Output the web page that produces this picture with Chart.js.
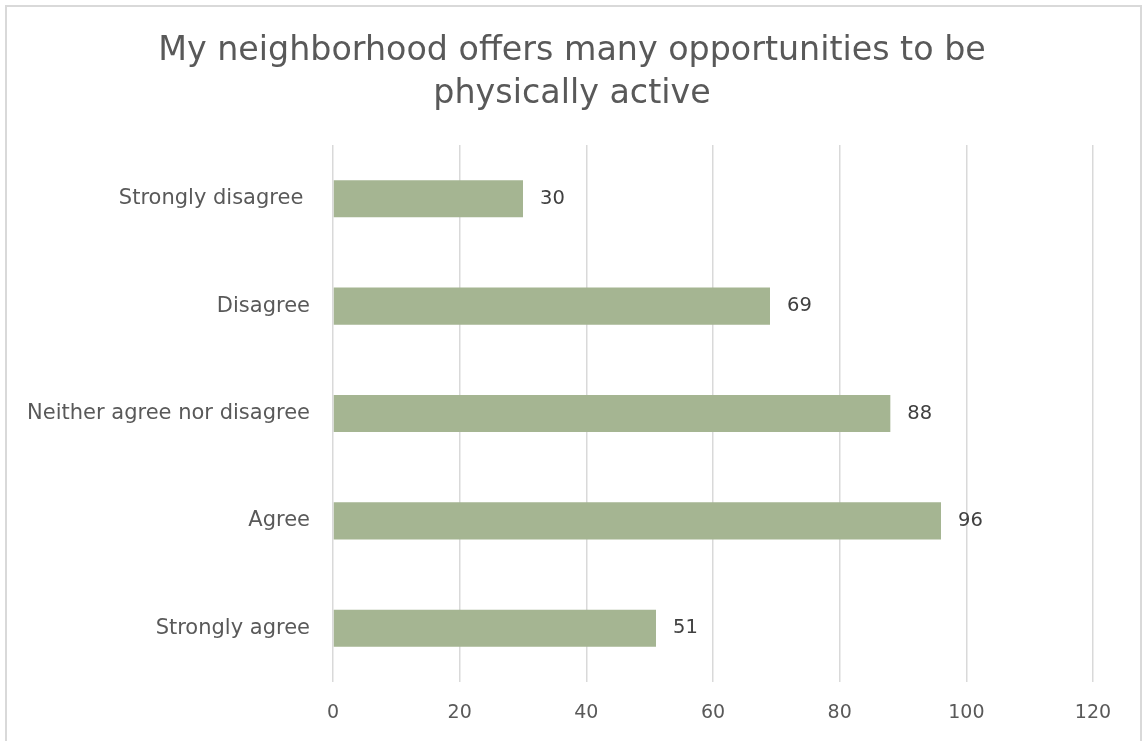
<!DOCTYPE html>
<html>
<head>
<meta charset="utf-8">
<script src="https://cdn.jsdelivr.net/npm/chart.js@4/dist/chart.umd.min.js"></script>
<style>
    body { margin: 0; background: #ffffff; }
    #wrap { position: relative; width: 1144px; height: 741px; overflow: hidden; }
    #frame {
        position: absolute; left: 5px; top: 5px; width: 1133px; height: 760px;
        border: 2px solid #d9d9d9;
    }
    #chart { position: absolute; left: 0; top: 0; }
</style>
</head>
<body>
<div id="wrap">
    <div id="frame"></div>
    <canvas id="chart" width="1144" height="741"></canvas>
</div>
<script>
// survey answers, top to bottom
const categories = ['Strongly disagree ', 'Disagree', 'Neither agree nor disagree', 'Agree', 'Strongly agree'];
const responses = [30, 69, 88, 96, 51];
const xTicks = [0, 20, 40, 60, 80, 100, 120];

const titleLines = ['My neighborhood offers many opportunities to be', 'physically active'];
const fontFamily = '"DejaVu Sans", sans-serif';

// title centred on the whole canvas, not just the plot area
const centeredTitle = {
    id: 'centeredTitle',
    afterDraw(chart) {
        const ctx = chart.ctx;
        ctx.save();
        ctx.font = '33.3px ' + fontFamily;
        ctx.fillStyle = '#595959';
        ctx.textAlign = 'center';
        ctx.textBaseline = 'alphabetic';
        titleLines.forEach((line, i) => {
            ctx.fillText(line, chart.width / 2, 59.5 + i * 43.5);
        });
        ctx.restore();
    }
};

// value printed just past the end of each bar
const barValueLabels = {
    id: 'barValueLabels',
    afterDatasetsDraw(chart) {
        const ctx = chart.ctx;
        const meta = chart.getDatasetMeta(0);
        ctx.save();
        ctx.font = '19.5px ' + fontFamily;
        ctx.fillStyle = '#404040';
        ctx.textAlign = 'left';
        ctx.textBaseline = 'middle';
        meta.data.forEach((bar, i) => {
            ctx.fillText(String(responses[i]), bar.x + 17, bar.y);
        });
        ctx.restore();
    }
};

const info = {
    labels: categories,
    datasets: [{
        data: responses,
        backgroundColor: '#a5b592',
        borderWidth: 0,
        categoryPercentage: 1,
        barPercentage: 0.345
    }]
};

const config = {
    type: 'bar',
    data: info,
    options: {
        indexAxis: 'y',
        responsive: false,
        animation: false,
        layout: { padding: { left: 0, right: 51, top: 145, bottom: 0 } },
        plugins: {
            legend: { display: false },
            tooltip: { enabled: false },
            title: { display: false }
        },
        scales: {
            x: {
                min: xTicks[0],
                max: xTicks[xTicks.length - 1],
                afterBuildTicks(scale) {
                    scale.ticks = xTicks.map(v => ({ value: v }));
                },
                afterFit(scale) { scale.height = 59; },
                grid: { color: '#d9d9d9', lineWidth: 1.5, drawTicks: false },
                border: { display: false },
                ticks: {
                    color: '#595959',
                    padding: 20,
                    font: { family: fontFamily, size: 19 }
                }
            },
            y: {
                afterFit(scale) { scale.width = 333; },
                grid: { display: false },
                border: { display: false },
                ticks: {
                    color: '#595959',
                    padding: 15,
                    font: { family: fontFamily, size: 21 }
                }
            }
        }
    },
    plugins: [barValueLabels, centeredTitle]
};

const myChart = new Chart(document.getElementById('chart'), config);
</script>
</body>
</html>
